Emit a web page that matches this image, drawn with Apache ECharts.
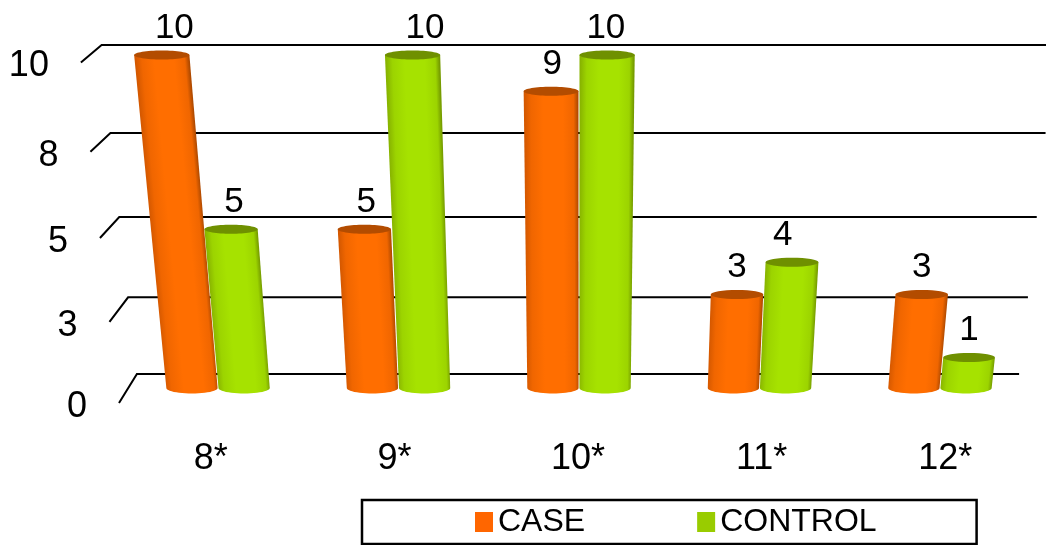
<!DOCTYPE html>
<html>
<head>
<meta charset="utf-8">
<style>html,body{margin:0;padding:0;background:#fff}#chart{width:1046px;height:545px}</style>
<script src="https://cdn.jsdelivr.net/npm/echarts@6/dist/echarts.min.js"></script>
</head>
<body>
<div id="chart"></div>
<script>
// Values plotted per gestational group
const categories = ['8*', '9*', '10*', '11*', '12*'];
const caseValues = [10, 5, 9, 3, 3];
const controlValues = [5, 10, 10, 4, 1];
const tickValues = [0, 2.5, 5, 7.5, 10];
const tickLabels = ['0', '3', '5', '8', '10'];

const FONT = '"Liberation Sans", Arial, sans-serif';
const VANISH_X = 578;

// Perspective planes: the front floor edge, the columns, the back wall
const FRONT = { scale: 1, dx: 0, shift: 0, rise: 1, bend: 0.006, lean: 0.083 };
const COLUMNS = { scale: 0.983, dx: 1, shift: -15, rise: 0.947, bend: 0.009, lean: 0.078 };
const WALL = { scale: 0.961, dx: 0, shift: -29, rise: 0.9375, bend: 0.0088, lean: 0.08 };

// Sideways nudges for the value labels that sit off their column's centre
const caseLabelNudge = [-6, 0, 0, 0, 0];
const controlLabelNudge = [0, 5, 0, -9, 0];

// Moves a point given by the flat axes onto one of the perspective planes
function project(api, pt, value, plane) {
  const y0 = api.coord([0, 0])[1];
  return [
    VANISH_X + plane.dx + (pt[0] - VANISH_X) * plane.scale * (1 + plane.lean * value / 10),
    y0 + plane.shift - (y0 - pt[1]) * plane.rise / (1 - plane.bend * value)
  ];
}

function renderWall(params, api) {
  const value = api.value(1);
  const rect = params.coordSys;
  const at = (x) => [x, api.coord([0, value])[1]];
  const frontLeft = project(api, at(rect.x), value, FRONT);
  const backLeft = project(api, at(rect.x), value, WALL);
  const backRight = project(api, at(rect.x + rect.width), value, WALL);
  const stroke = { stroke: '#000', lineWidth: 2, fill: null };
  return {
    type: 'group',
    children: [
      { type: 'polyline', silent: true, shape: { points: [frontLeft, backLeft, backRight] }, style: stroke },
      {
        type: 'text', silent: true,
        style: {
          text: tickLabels[params.dataIndex],
          x: frontLeft[0] - 32, y: frontLeft[1] + 4,
          textAlign: 'right', textVerticalAlign: 'middle',
          font: '36px ' + FONT, fill: '#000'
        }
      }
    ]
  };
}

function makeColumnRenderer(offsetSign, shades, labelNudge) {
  return function (params, api) {
    const value = api.value(1);
    const band = api.size([1, 0])[0];
    const half = band * 0.142;
    const center = api.coord([api.value(0), 0])[0] + offsetSign * band * 0.1445;
    const valueY = api.coord([0, value])[1];
    const zeroY = api.coord([0, 0])[1];

    const topL = project(api, [center - half, valueY], value, COLUMNS);
    const topR = project(api, [center + half, valueY], value, COLUMNS);
    const botL = project(api, [center - half, zeroY], 0, COLUMNS);
    const botR = project(api, [center + half, zeroY], 0, COLUMNS);
    const topC = [(topL[0] + topR[0]) / 2, topL[1]];
    const botC = [(botL[0] + botR[0]) / 2, botL[1]];

    // Side of the cylinder, closed below by a half ellipse
    const rxBottom = (botR[0] - botL[0]) / 2;
    const points = [topL, topR];
    for (let a = 0; a <= 24; a++) {
      const t = Math.PI * a / 24;
      points.push([botC[0] + rxBottom * Math.cos(t), botC[1] + 5.5 * Math.sin(t)]);
    }

    // Shading runs across the column, square to its slanted axis
    const dx = topC[0] - botC[0], dy = topC[1] - botC[1];
    const len = Math.hypot(dx, dy) || 1;
    const nx = -dy / len, ny = dx / len;
    const mx = (topC[0] + botC[0]) / 2, my = (topC[1] + botC[1]) / 2;
    const w = (rxBottom + (topR[0] - topL[0]) / 2) / 2;
    const sx = nx > 0 ? 1 : -1;
    const side = new echarts.graphic.LinearGradient(
      mx - sx * nx * w, my - sx * ny * w, mx + sx * nx * w, my + sx * ny * w,
      [
        { offset: 0, color: shades.edgeL },
        { offset: 0.12, color: shades.mid },
        { offset: 0.35, color: shades.light },
        { offset: 0.72, color: shades.light },
        { offset: 0.92, color: shades.mid },
        { offset: 1, color: shades.edgeR }
      ],
      true
    );

    const labelScale = Math.min(1 + COLUMNS.lean * value / 10, 1.03);
    const labelX = VANISH_X + COLUMNS.dx + (center - VANISH_X) * COLUMNS.scale * labelScale
      + labelNudge[params.dataIndex];

    return {
      type: 'group',
      children: [
        { type: 'polygon', silent: true, shape: { points }, style: { fill: side } },
        {
          type: 'ellipse', silent: true,
          shape: { cx: topC[0], cy: topC[1], rx: (topR[0] - topL[0]) / 2, ry: 4.5 },
          style: { fill: shades.cap }
        },
        {
          type: 'text', silent: true,
          style: {
            text: String(value),
            x: labelX, y: topC[1] - 27,
            textAlign: 'center', textVerticalAlign: 'middle',
            font: '35px ' + FONT, fill: '#000'
          }
        }
      ]
    };
  };
}

const orange = { edgeL: '#d45800', mid: '#f06600', light: '#ff6e00', edgeR: '#b04a00', cap: '#b34c00' };
const green = { edgeL: '#88b400', mid: '#9cd400', light: '#a6e200', edgeR: '#769c00', cap: '#6f9000' };

const chart = echarts.init(document.getElementById('chart'), null, { renderer: 'canvas' });
chart.setOption({
  backgroundColor: '#fff',
  animation: false,
  grid: { left: 119, width: 918, top: 83, height: 320 },
  xAxis: {
    type: 'category',
    data: categories,
    axisLine: { show: false },
    axisTick: { show: false },
    axisLabel: { fontFamily: FONT, fontSize: 36, color: '#000', margin: 38 }
  },
  yAxis: { type: 'value', min: 0, max: 10, interval: 2.5, show: false },
  legend: {
    data: ['CASE', 'CONTROL'],
    left: 362, top: 500,
    padding: [6, 100, 6, 113],
    itemWidth: 18, itemHeight: 20, itemGap: 112,
    icon: 'rect',
    borderColor: '#000', borderWidth: 2.5,
    selectedMode: false,
    textStyle: { fontFamily: FONT, fontSize: 32, color: '#000' }
  },
  series: [
    {
      type: 'custom', silent: true, z: 1,
      renderItem: renderWall,
      data: tickValues.map((t) => [0, t])
    },
    {
      type: 'custom', name: 'CASE', silent: true, z: 2,
      itemStyle: { color: '#ff6600' },
      renderItem: makeColumnRenderer(-1, orange, caseLabelNudge),
      data: caseValues.map((v, i) => [i, v])
    },
    {
      type: 'custom', name: 'CONTROL', silent: true, z: 3,
      itemStyle: { color: '#99cc00' },
      renderItem: makeColumnRenderer(1, green, controlLabelNudge),
      data: controlValues.map((v, i) => [i, v])
    }
  ]
});
</script>
</body>
</html>
